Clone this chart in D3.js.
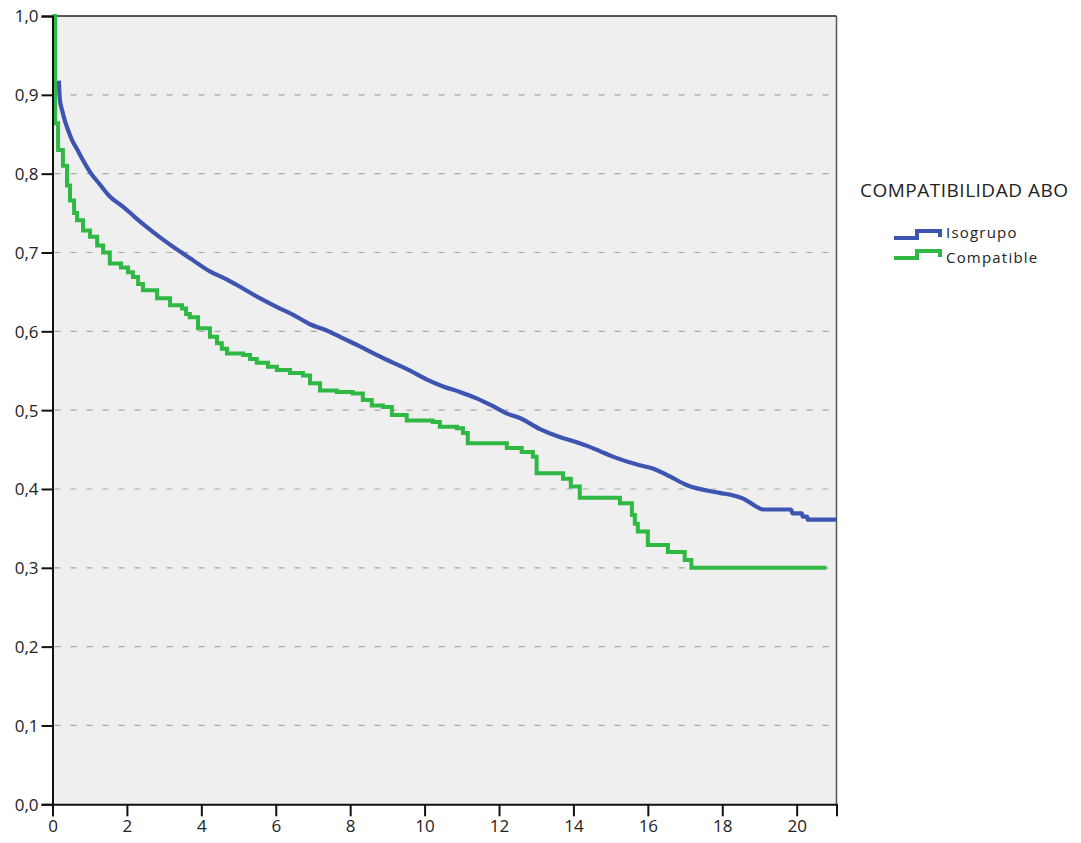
<!DOCTYPE html>
<html><head><meta charset="utf-8">
<script src="https://cdn.jsdelivr.net/npm/d3@7"></script>
<style>body{margin:0;background:#fff;} svg{display:block;}</style>
</head><body>
<svg id="c" width="1081" height="843"></svg>
<script>
// Data
const isoTimes = [0.17,0.20,0.26,0.34,0.42,0.52,0.66,0.82,1.01,1.28,1.54,1.90,2.26,2.62,2.98,3.34,3.78,4.23,4.68,5.13,5.57,6.02,6.47,6.92,7.37,7.81,8.26,8.71,9.16,9.61,10.05,10.50,10.95,11.40,11.84,12.20,12.56,13.10,13.63,13.98,14.35,14.71,15.06,15.78,16.13,16.59,17.04,17.93,18.28,18.55,18.87,19.09,19.85,19.89,20.14,20.16,20.28,20.30,21.07];
const isoSurv  = [0.918,0.893,0.880,0.866,0.855,0.843,0.831,0.817,0.802,0.786,0.771,0.758,0.743,0.729,0.716,0.704,0.690,0.676,0.666,0.654,0.642,0.631,0.621,0.609,0.601,0.591,0.581,0.570,0.560,0.550,0.539,0.530,0.523,0.515,0.505,0.496,0.490,0.476,0.466,0.461,0.455,0.448,0.441,0.430,0.426,0.416,0.405,0.395,0.392,0.388,0.379,0.374,0.374,0.369,0.369,0.365,0.365,0.361,0.361];
const compTimes = [0,0.07,0.15,0.28,0.39,0.47,0.58,0.66,0.82,1.01,1.20,1.36,1.54,1.84,2.03,2.16,2.30,2.43,2.81,3.16,3.48,3.59,3.69,3.91,4.23,4.42,4.55,4.69,5.12,5.31,5.49,5.79,6.03,6.38,6.73,6.92,7.19,7.64,8.07,8.34,8.58,8.88,9.12,9.52,10.22,10.41,10.87,11.03,11.16,12.21,12.61,12.91,13.01,13.72,13.93,14.17,15.25,15.57,15.65,15.73,16.00,16.54,16.99,17.17,20.80];
const compSurv  = [1.0,0.864,0.830,0.810,0.785,0.766,0.750,0.741,0.728,0.720,0.709,0.700,0.686,0.681,0.675,0.669,0.660,0.652,0.642,0.633,0.629,0.622,0.618,0.604,0.593,0.585,0.578,0.572,0.570,0.565,0.560,0.555,0.551,0.547,0.544,0.534,0.525,0.523,0.521,0.513,0.506,0.504,0.494,0.487,0.485,0.479,0.477,0.471,0.458,0.452,0.447,0.441,0.420,0.413,0.403,0.389,0.382,0.367,0.356,0.346,0.329,0.320,0.310,0.300,0.300];
const xTicks = [0,2,4,6,8,10,12,14,16,18,20];
const yTicks = [0,0.1,0.2,0.3,0.4,0.5,0.6,0.7,0.8,0.9,1.0];
const seriesNames = ["Isogrupo","Compatible"];
const legendTitle = "COMPATIBILIDAD ABO";

const colors = ["#3d55b0","#2fb843"];
const svg = d3.select("#c");
const L=52.5, R=836.5, T=16, B=804.3;
const x = d3.scaleLinear().domain([0,21.07]).range([L,R]);
const y = d3.scaleLinear().domain([0,1]).range([B,T]);

svg.append("rect").attr("x",L).attr("y",T).attr("width",R-L).attr("height",B-T).attr("fill","#efefef");

// gridlines
svg.append("g").selectAll("line").data(yTicks.filter(v=>v>0&&v<1)).join("line")
  .attr("x1",L+2).attr("x2",R).attr("y1",d=>y(d)).attr("y2",d=>y(d))
  .attr("stroke","#a8a8a8").attr("stroke-width",1.2).attr("stroke-dasharray","6,10");

// frame
svg.append("line").attr("x1",L).attr("x2",R).attr("y1",T).attr("y2",T).attr("stroke","#222").attr("stroke-width",1.3);
svg.append("line").attr("x1",R).attr("x2",R).attr("y1",T).attr("y2",B).attr("stroke","#555").attr("stroke-width",1.5);

const fmt = d=>d3.format(".1f")(d).replace(".",",");
const font = "'Open Sans', 'Noto Sans', sans-serif";

const isoLine = d3.line().x(d=>x(d[0])).y(d=>y(d[1])).curve(d3.curveMonotoneX);
const stepLine = d3.line().x(d=>x(d[0])).y(d=>y(d[1])).curve(d3.curveStepAfter);
const isoData = isoTimes.map((t,i)=>[t,isoSurv[i]]);
const compData = compTimes.map((t,i)=>[t,compSurv[i]]);
svg.append("path").datum(isoData).attr("d",isoLine).attr("fill","none").attr("stroke",colors[0]).attr("stroke-width",4.2).attr("stroke-linejoin","round");
svg.append("path").datum(compData).attr("d",stepLine).attr("fill","none").attr("stroke",colors[1]).attr("stroke-width",4);

// axes
const yAxis = svg.append("g").attr("transform",`translate(${L},0)`).call(d3.axisLeft(y).tickValues(yTicks).tickFormat(fmt).tickSize(11).tickPadding(3));
const xAxis = svg.append("g").attr("transform",`translate(0,${B})`).call(d3.axisBottom(x).tickValues(xTicks).tickSize(12).tickPadding(4));
[yAxis,xAxis].forEach(a=>{
  a.select(".domain").attr("stroke","#111").attr("stroke-width",2);
  a.selectAll(".tick line").attr("stroke","#111").attr("stroke-width",2);
  a.selectAll("text").attr("font-family",font).attr("font-size",17).attr("fill","#222");
});
yAxis.selectAll(".tick text").attr("dy","0.35em");

// legend
const lg = svg.append("g");
lg.append("text").attr("x",860).attr("y",197).text(legendTitle).attr("font-family",font).attr("font-size",19).attr("letter-spacing",0.5).attr("fill","#222");
const lys = [238,258];
const lty = [233,258];
seriesNames.forEach((n,i)=>{
  const yl = lys[i];
  const pts = [[894,yl],[917,yl],[917,yl-7],[940,yl-7],[940,yl-1]];
  lg.append("path").attr("d",d3.line()(pts)).attr("fill","none").attr("stroke",colors[i]).attr("stroke-width",4);
  lg.append("text").attr("x",946).attr("y",lty[i]).text(n).attr("font-family",font).attr("font-size",15).attr("letter-spacing",1.2).attr("fill","#222").attr("dy","0.35em");
});
</script>
</body></html>
